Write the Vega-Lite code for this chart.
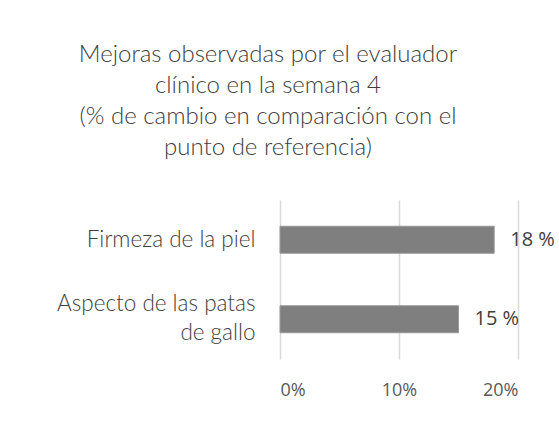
{
  "$schema": "https://vega.github.io/schema/vega-lite/v6.json",
  "autosize": {"type": "none"},
  "padding": {"left": 280, "top": 200, "right": 41, "bottom": 67},
  "width": 238,
  "height": 159,
  "background": "white",
  "title": {
    "text": ["Mejoras observadas por el evaluador", "clínico en la semana 4", "(% de cambio en comparación con el", "punto de referencia)"],
    "anchor": "middle",
    "dx": -131,
    "offset": 40,
    "font": "Lato",
    "fontWeight": 300,
    "fontSize": 24,
    "lineHeight": 31,
    "color": "#404040"
  },
  "data": {
    "values": [
      {"categoria": "Firmeza de la piel", "valor": 18, "etiqueta": "18 %"},
      {"categoria": "Aspecto de las patas de gallo", "valor": 15, "etiqueta": "15 %"}
    ]
  },
  "encoding": {
    "y": {
      "field": "categoria",
      "type": "nominal",
      "sort": null,
      "scale": {"paddingInner": 0.66, "paddingOuter": 0.33},
      "axis": {
        "title": null,
        "domain": false,
        "ticks": false,
        "grid": false,
        "labelPadding": 25,
        "labelFont": "Lato",
        "labelFontWeight": 300,
        "labelFontSize": 22.5,
        "labelColor": "#404040",
        "labelLineHeight": 29,
        "labelLimit": 270,
        "labelOffset": {"condition": {"test": "datum.value == 'Aspecto de las patas de gallo'", "value": -15}, "value": 0},
        "labelExpr": "datum.value == 'Aspecto de las patas de gallo' ? ['Aspecto de las patas', 'de gallo'] : datum.value"
      }
    },
    "x": {
      "field": "valor",
      "type": "quantitative",
      "scale": {"domain": [0, 20], "nice": false},
      "axis": {
        "title": null,
        "values": [0, 10, 20],
        "labelExpr": "datum.value + '%'",
        "domain": false,
        "ticks": false,
        "grid": true,
        "gridColor": "#d9d9d9",
        "gridWidth": 1.5,
        "labelPadding": 22,
        "labelFont": "Open Sans",
        "labelFontSize": 18,
        "labelColor": "#595959"
      }
    }
  },
  "layer": [
    {
      "mark": {"type": "bar", "color": "#7f7f7f", "stroke": "#9a9a9a", "strokeWidth": 1}
    },
    {
      "mark": {"type": "text", "align": "left", "dx": 16, "font": "Open Sans", "fontSize": 20, "color": "#404040"},
      "encoding": {"text": {"field": "etiqueta"}}
    }
  ],
  "config": {"view": {"stroke": null}}
}
